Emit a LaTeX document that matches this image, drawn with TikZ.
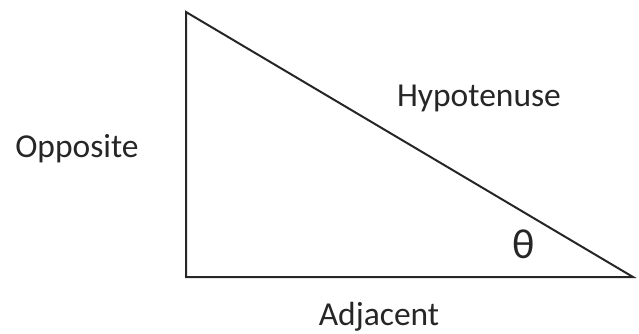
\documentclass[tikz,border=0pt]{standalone}
\usepackage{fontspec}
\setmainfont{Carlito}
\usepackage{tikz}
\begin{document}
\begin{tikzpicture}[
  x=1pt,y=-1pt,
  font=\fontsize{33.5}{40}\selectfont,
  side/.style={draw=black!85,line width=2pt,line join=miter},
  lbl/.style={anchor=base,inner sep=0pt,text=black!85}
]
\useasboundingbox (0,0) rectangle (639,333);
\coordinate (top) at (186,12);
\coordinate (corner) at (186,277);
\coordinate (tip) at (633,277);
\draw[side] (top) -- (corner) -- (tip) -- cycle;

\node[lbl] (opp) at (77,157) {Opposite};
\node[lbl] (hyp) at (479,106) {Hypotenuse};
\node[lbl] (adj) at (379,325) {Adjacent};
\node[lbl,font=\fontsize{42}{48}\selectfont] (theta) at (524,258) {θ};
\end{tikzpicture}
\end{document}
